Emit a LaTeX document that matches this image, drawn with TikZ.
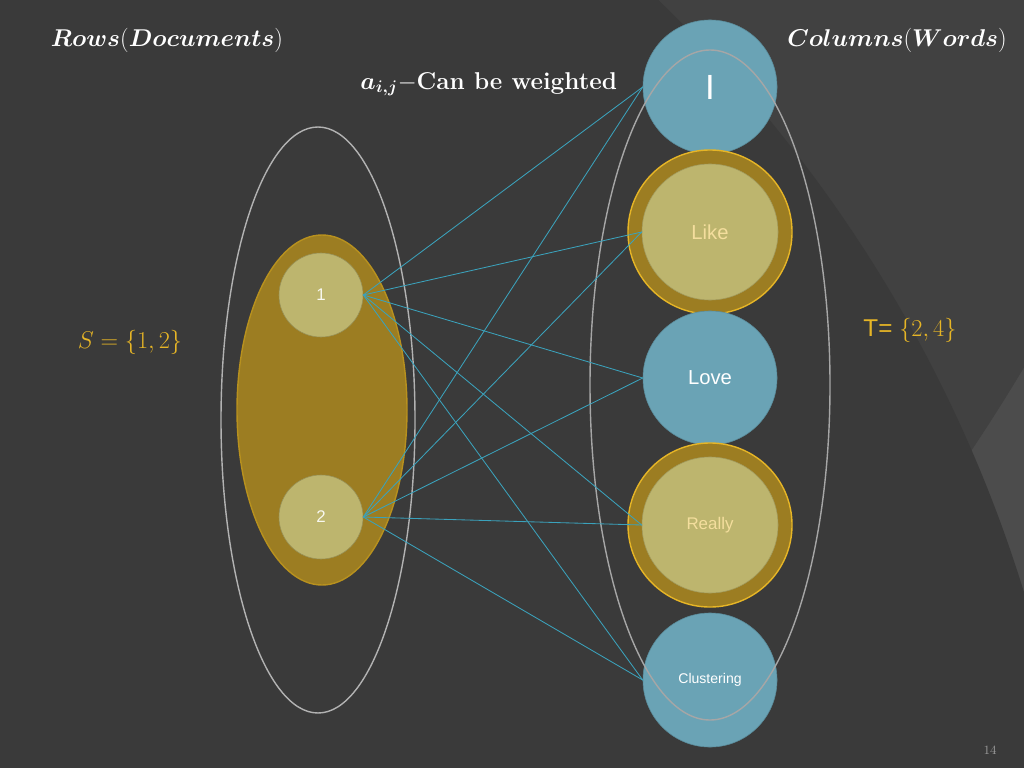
\documentclass[tikz,border=0pt]{standalone}
\usepackage{bm}
\usepackage{fontspec}
\setsansfont{Liberation Sans}
\begin{document}
\begin{tikzpicture}[x=0.025cm,y=-0.025cm,line cap=round]
  % Styles
  \tikzset{
    docnode/.style={circle,fill=docfill,draw=docfill!80!black,minimum size=2.1cm,inner sep=0pt,font=\sffamily\large,text=white!90!docfill},
    wordnode/.style={circle,fill=wordfill,draw=wordfill!85!black,minimum size=3.35cm,inner sep=0pt,font=\sffamily\Huge,text=white},
    ringnode/.style={circle,fill=ringfill,draw=goldtxt,line width=1pt,minimum size=4.1cm,inner sep=0pt},
    inner/.style={circle,fill=docfill,draw=docfill!85!black,minimum size=3.4cm,inner sep=0pt,font=\sffamily\Huge,text=goldtxt!45!white},
    link/.style={draw=linkclr,line width=0.6pt},
    title/.style={text=white,font=\LARGE}
  }

  % Colors
  \definecolor{bgclr}{HTML}{3A3A3A}
  \definecolor{bgarc}{HTML}{414141}
  \definecolor{bgarc2}{HTML}{4C4C4C}
  \definecolor{docfill}{HTML}{BDB56E}
  \definecolor{ringfill}{HTML}{9C7D22}
  \definecolor{wordfill}{HTML}{6AA3B5}
  \definecolor{goldtxt}{HTML}{E6B526}
  \definecolor{linkclr}{HTML}{3AA2BC}

  % Background
  \begin{scope}
    \clip (0,0) rectangle (1024,768);
    \fill[bgarc2] (0,0) rectangle (1024,768);
    \fill[bgarc] (-600,-600) circle[radius=1890];
    \fill[bgclr] (-300,1000) circle[radius=1385];
  \end{scope}
  \useasboundingbox (0,0) rectangle (1024,768);

  % Ellipses
  \draw[gray!60,line width=1pt] (318,420) ellipse[x radius=97,y radius=293];
  \fill[ringfill] (322,410) ellipse[x radius=85,y radius=175];
  \draw[goldtxt!80!black,line width=1pt] (322,410) ellipse[x radius=85,y radius=175];

  % Documents
  \node[docnode] (d1) at (321,295) {1};
  \node[docnode] (d2) at (321,517) {2};

  % Words
  \node[wordnode] (w1) at (710,87) {I};
  \node[ringnode] at (710,232) {};
  \node[inner] (w2) at (710,232) {\Large Like};
  \node[wordnode] (w3) at (710,378) {\Large Love};
  \node[ringnode] at (710,525) {};
  \node[inner] (w4) at (710,525) {\large Really};
  \node[wordnode] (w5) at (710,680) {\normalsize Clustering};
  \draw[gray!70,line width=1pt] (710,385) ellipse[x radius=120,y radius=335];

  % Links
  \foreach \d in {d1,d2}
    \foreach \w in {w1,w2,w3,w4,w5}
      \draw[link] (\d.east) -- (\w.west);

  % Labels
  \node[title] at (167,40) {$\bm{Rows}(\bm{Documents})$};
  \node[title] at (897,40) {$\bm{Columns}(\bm{Words})$};
  \node[title,anchor=east] at (622,84) {$\bm{a_{i,j}} - $\textbf{Can be weighted}};
  \node[text=goldtxt,font=\LARGE] at (130,342) {$S=\{1,2\}$};
  \node[text=goldtxt,font=\LARGE] at (910,330) {\sffamily T= \rmfamily$\{2,4\}$};
  \node[text=gray!80,font=\small] at (990,750) {14};
\end{tikzpicture}
\end{document}
